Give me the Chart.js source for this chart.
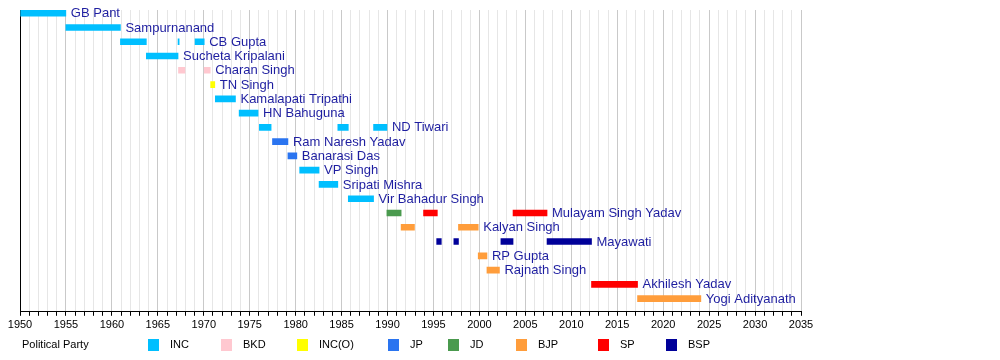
<!DOCTYPE html>
<html>
<head>
<meta charset="utf-8">
<script src="https://cdn.jsdelivr.net/npm/chart.js@4"></script>
<style>
  html, body { margin: 0; padding: 0; background: #fff; }
  #wrap { position: relative; width: 1000px; height: 360px; }
  #legend { position: absolute; left: 0; top: 338px; width: 1000px; height: 14px;
            font: 11px "Liberation Sans", Arial, sans-serif; color: #000; }
  #legend span { position: absolute; top: 0; line-height: 13px; white-space: nowrap; }
  #legend i { position: absolute; top: 1px; width: 11px; height: 12px; }
</style>
</head>
<body>
<div id="wrap">
  <canvas id="myChart" width="1000" height="360"></canvas>
  <div id="legend"></div>
</div>
<script>
// chief ministers timeline

const rowNames = ['GB Pant', 'Sampurnanand', 'CB Gupta', 'Sucheta Kripalani', 'Charan Singh', 'TN Singh',
  'Kamalapati Tripathi', 'HN Bahuguna', 'ND Tiwari', 'Ram Naresh Yadav', 'Banarasi Das', 'VP Singh',
  'Sripati Mishra', 'Vir Bahadur Singh', 'Mulayam Singh Yadav', 'Kalyan Singh', 'Mayawati', 'RP Gupta',
  'Rajnath Singh', 'Akhilesh Yadav', 'Yogi Adityanath'];

const partyNames = ['INC', 'BKD', 'INC(O)', 'JP', 'JD', 'BJP', 'SP', 'BSP'];

// one entry per term
const termPerson = ['GB Pant', 'Sampurnanand', 'CB Gupta', 'Sucheta Kripalani', 'CB Gupta', 'Charan Singh',
  'CB Gupta', 'Charan Singh', 'TN Singh', 'Kamalapati Tripathi', 'HN Bahuguna', 'ND Tiwari',
  'Ram Naresh Yadav', 'Banarasi Das', 'VP Singh', 'Sripati Mishra', 'ND Tiwari', 'Vir Bahadur Singh',
  'ND Tiwari', 'Mulayam Singh Yadav', 'Kalyan Singh', 'Mulayam Singh Yadav', 'Mayawati', 'Mayawati',
  'Kalyan Singh', 'RP Gupta', 'Rajnath Singh', 'Mayawati', 'Mulayam Singh Yadav', 'Mayawati',
  'Akhilesh Yadav', 'Yogi Adityanath'];
const termParty = ['INC', 'INC', 'INC', 'INC', 'INC', 'BKD', 'INC', 'BKD', 'INC(O)', 'INC', 'INC', 'INC',
  'JP', 'JP', 'INC', 'INC', 'INC', 'INC', 'INC', 'JD', 'BJP', 'SP', 'BSP', 'BSP', 'BJP', 'BJP', 'BJP',
  'BSP', 'SP', 'BSP', 'SP', 'BJP'];
const termStart = [1950.07, 1954.99, 1960.93, 1963.75, 1967.2, 1967.25, 1969.05, 1970.05, 1970.75, 1971.26,
  1973.85, 1976.05, 1977.48, 1979.16, 1980.44, 1982.55, 1984.59, 1985.73, 1988.48, 1989.93, 1991.48,
  1993.92, 1995.35, 1997.22, 1997.72, 1999.87, 2000.82, 2002.34, 2003.66, 2007.36, 2012.2, 2017.21];
const termEnd = [1954.99, 1960.93, 1963.75, 1967.2, 1967.32, 1967.95, 1970.05, 1970.7, 1971.2, 1973.45,
  1975.91, 1977.33, 1979.16, 1980.13, 1982.55, 1984.59, 1985.73, 1988.48, 1989.93, 1991.48, 1992.93,
  1995.42, 1995.85, 1997.72, 1999.87, 2000.82, 2002.18, 2003.66, 2007.36, 2012.2, 2017.21, 2024.1];

const yearTicks = ['1950', '1955', '1960', '1965', '1970', '1975', '1980', '1985', '1990', '1995', '2000',
  '2005', '2010', '2015', '2020', '2025', '2030', '2035'];

// styles
const partyColors = ['#00bfff', '#ffc8d0', '#ffff00', '#2a74f0', '#4a9a4e', '#ff9d3b', '#ff0000', '#000099'];
const legendLeft = [148, 221, 297, 388, 448, 516, 598, 666];
const labelColor = '#1e1ea0';

const datasets = partyNames.map(function (party, p) {
  const data = [];
  termParty.forEach(function (tp, i) {
    if (tp === party) data.push({ x: [termStart[i], termEnd[i]], y: rowNames.indexOf(termPerson[i]) });
  });
  return {
    label: party,
    data: data,
    backgroundColor: partyColors[p],
    borderWidth: 0,
    borderSkipped: false,
    barThickness: 6,
    grouped: false
  };
});

// name label after the last term of each row
const rowLabels = {
  id: 'rowLabels',
  afterDatasetsDraw(chart) {
    const ctx = chart.ctx;
    const xs = chart.scales.x, ys = chart.scales.y;
    ctx.save();
    ctx.font = '13px "Liberation Sans", Arial, sans-serif';
    ctx.fillStyle = labelColor;
    ctx.textBaseline = 'middle';
    rowNames.forEach(function (name, r) {
      let last = -Infinity;
      termPerson.forEach(function (tp, i) { if (tp === name) last = Math.max(last, termEnd[i]); });
      ctx.fillText(name, xs.getPixelForValue(last) + 5, ys.getPixelForValue(r) + 0.5);
    });
    ctx.restore();
  }
};

var ctx = document.getElementById('myChart').getContext('2d');
var chart = new Chart(ctx, {
  type: 'bar',
  data: { datasets: datasets },
  plugins: [rowLabels],
  options: {
    indexAxis: 'y',
    responsive: false,
    animation: false,
    layout: { padding: { left: 20, right: 199, top: 10, bottom: 25 } },
    plugins: { legend: { display: false }, tooltip: { enabled: false } },
    scales: {
      x: {
        type: 'linear',
        min: 1950,
        max: 2035,
        offset: false,
        grid: {
          color: function (c) { return c.tick && c.tick.value % 5 === 0 ? '#c9c9c9' : '#e6e6e6'; },
          tickColor: '#000',
          tickLength: 4
        },
        border: { color: '#000', width: 1 },
        ticks: {
          stepSize: 1,
          autoSkip: false,
          maxRotation: 0,
          maxTicksLimit: 200,
          padding: 3,
          color: '#000',
          font: { family: '"Liberation Sans", Arial, sans-serif', size: 11 },
          callback: function (v) {
            const s = String(v);
            return yearTicks.indexOf(s) >= 0 ? s : '';
          }
        }
      },
      y: {
        type: 'linear',
        reverse: true,
        offset: false,
        bounds: 'data',
        grace: 0,
        min: -0.224,
        max: rowNames.length - 1 + 0.924,
        grid: { display: false, drawTicks: false },
        border: { color: '#000', width: 1 },
        ticks: { display: false }
      }
    }
  }
});

// legend
const legend = document.getElementById('legend');
let html = '<span style="left:22px">Political Party</span>';
partyNames.forEach(function (party, p) {
  html += '<i style="left:' + legendLeft[p] + 'px;background:' + partyColors[p] + '"></i>';
  html += '<span style="left:' + (legendLeft[p] + 22) + 'px">' + party + '</span>';
});
legend.innerHTML = html;
</script>
</body>
</html>
